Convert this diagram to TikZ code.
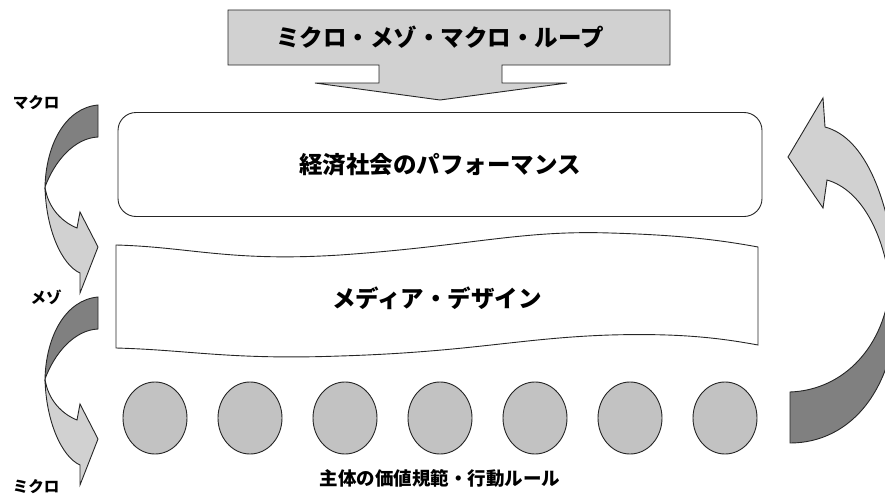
\documentclass[tikz,border=0pt]{standalone}
\usepackage{fontspec}
\newfontfamily\jp{Noto Sans CJK JP}
\usetikzlibrary{shapes.geometric}
\definecolor{lightfill}{gray}{0.82}
\definecolor{darkfill}{gray}{0.5}
\definecolor{agentfill}{gray}{0.76}

\begin{document}
\begin{tikzpicture}[x=1pt,y=-1pt,
    outline/.style={draw=black!85,line width=0.9pt},
    label/.style={font=\jp\bfseries\fontsize{23.5}{27}\selectfont},
    side/.style={font=\jp\bfseries\fontsize{15.5}{18}\selectfont},
    agent/.style={ellipse,outline,fill=agentfill,minimum width=64pt,minimum height=72pt}]
        \useasboundingbox (0,0) rectangle (885,495);
        \clip (0,0) rectangle (885,495);

        % title callout
        \draw[outline,fill=lightfill] (228,10) -- (670,10) -- (670,65) -- (502,65) -- (502,83)
            -- (567,83) -- (440,100) -- (315,83) -- (379,83) -- (379,65) -- (228,65) -- cycle;
        \node[label] (loop) at (440,37) {ミクロ・メゾ・マクロ・ループ};

        % macro level
        \node[outline,rounded corners=18pt,minimum width=644pt,minimum height=104pt,label]
            (perf) at (440,164.5) {経済社会のパフォーマンス};

        % meso level
        \draw[outline] (116,245) .. controls (190,247) and (230,262) .. (340,255)
            .. controls (470,246) and (520,230) .. (610,233) .. controls (680,235) and (720,240) .. (758,247)
            -- (758,345) .. controls (720,338) and (680,333) .. (610,335)
            .. controls (520,338) and (470,352) .. (340,356) .. controls (230,360) and (190,350) .. (116,348) -- cycle;
        \node[label] (media) at (437,298) {メディア・デザイン};

        % micro level
        \foreach \i in {1,...,7}
            \node[agent] (a\i) at (60+95*\i,418) {};
        \node[label,font=\jp\bfseries\fontsize{18.5}{22}\selectfont] (rule) at (440,478) {主体の価値規範・行動ルール};

        % downward arrows
        \foreach \dy in {0,192} {
            \begin{scope}[shift={(0,\dy)}]
            \draw[outline,fill=darkfill] (98,105) .. controls (65,108) and (46,145) .. (45,187)
                .. controls (55,160) and (75,138) .. (98,137) -- cycle;
            \draw[outline,fill=lightfill] (45,187) .. controls (46,230) and (62,265) .. (80,273)
                -- (80,293) -- (98,247) -- (80,212) -- (77,228) .. controls (62,222) and (48,208) .. (45,187) -- cycle;
            \end{scope}
        }

        % upward arrow
        \draw[outline,fill=darkfill] (890,285) .. controls (885,345) and (845,390) .. (790,392)
            -- (790,443) .. controls (850,443) and (900,390) .. (898,285) -- cycle;
        \draw[outline,fill=lightfill] (788,157) -- (823,98) -- (825,127) .. controls (866,138) and (890,200) .. (898,285)
            -- (890,285) .. controls (884,235) and (862,190) .. (827,180) -- (823,208) -- cycle;

        \node[side] (macro) at (36,103) {マクロ};
        \node[side] (meso) at (46,297) {メゾ};
        \node[side] (micro) at (36,487) {ミクロ};
      \end{tikzpicture}
\end{document}
